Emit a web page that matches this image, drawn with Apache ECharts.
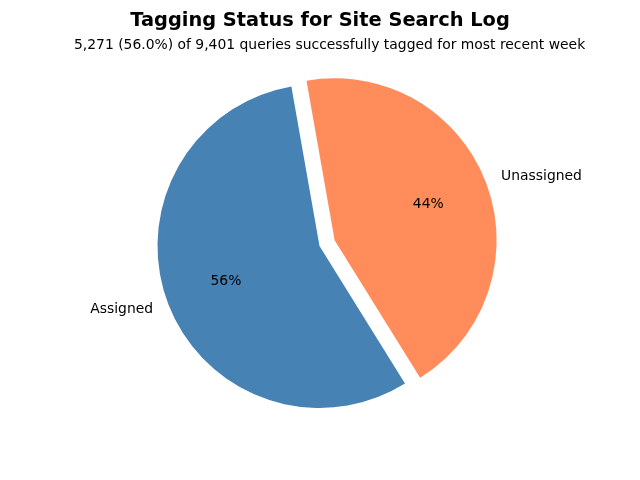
<!DOCTYPE html>
<html>
<head>
<meta charset="utf-8">
<script src="https://cdn.jsdelivr.net/npm/echarts@6/dist/echarts.min.js"></script>
<style>
  html, body { margin: 0; padding: 0; background: #fff; }
  #chart { width: 640px; height: 480px; }
</style>
</head>
<body>
<div id="chart"></div>
<script>
const categories = ['Assigned', 'Unassigned'];
const counts = [5271, 4130];
const exploded = [false, true];
const titleText = 'Tagging Status for Site Search Log';
const subtitleText = '5,271 (56.0%) of 9,401 queries successfully tagged for most recent week';

const colors = ['#4682B4', '#FF8C5A'];
const R = 162;
const CENTER = [319.5, 246];
const FONT = 'DejaVu Sans';

const pieData = categories.map((c, i) => ({
  name: c,
  value: counts[i],
  selected: exploded[i],
  itemStyle: { color: colors[i] }
}));
const labelData = categories.map((c, i) => ({
  name: c,
  value: counts[i],
  selected: exploded[i]
}));

const chart = echarts.init(document.getElementById('chart'), null, { renderer: 'canvas' });
chart.setOption({
  animation: false,
  backgroundColor: '#ffffff',
  title: [
    {
      text: titleText,
      left: 'center',
      top: 6,
      textStyle: { fontFamily: FONT, fontSize: 19.4, fontWeight: 'bold', color: '#000' }
    },
    {
      text: subtitleText,
      left: 69,
      top: 33,
      textStyle: { fontFamily: FONT, fontSize: 13.9, fontWeight: 'normal', color: '#000' }
    }
  ],
  series: [
    {
      type: 'pie',
      center: CENTER,
      radius: [0, R],
      startAngle: 100,
      clockwise: false,
      selectedMode: 'single',
      selectedOffset: R * 0.1,
      avoidLabelOverlap: false,
      emphasis: { disabled: true },
      itemStyle: { borderWidth: 0 },
      label: {
        show: true,
        position: 'outside',
        formatter: '{b}',
        distanceToLabelLine: 0,
        fontFamily: FONT,
        fontSize: 13.9,
        color: '#000'
      },
      labelLine: { show: false, length: R * 0.1, length2: 0 },
      data: pieData
    },
    {
      type: 'pie',
      center: CENTER,
      radius: [R * 0.2, R],
      startAngle: 100,
      clockwise: false,
      selectedMode: 'single',
      selectedOffset: R * 0.1,
      avoidLabelOverlap: false,
      silent: true,
      percentPrecision: 0,
      emphasis: { disabled: true },
      itemStyle: { color: 'rgba(0,0,0,0)', borderWidth: 0 },
      label: {
        show: true,
        position: 'inside',
        formatter: '{d}%',
        fontFamily: FONT,
        fontSize: 13.9,
        color: '#000',
        textBorderWidth: 0
      },
      labelLine: { show: false },
      data: labelData
    }
  ]
});
</script>
</body>
</html>
